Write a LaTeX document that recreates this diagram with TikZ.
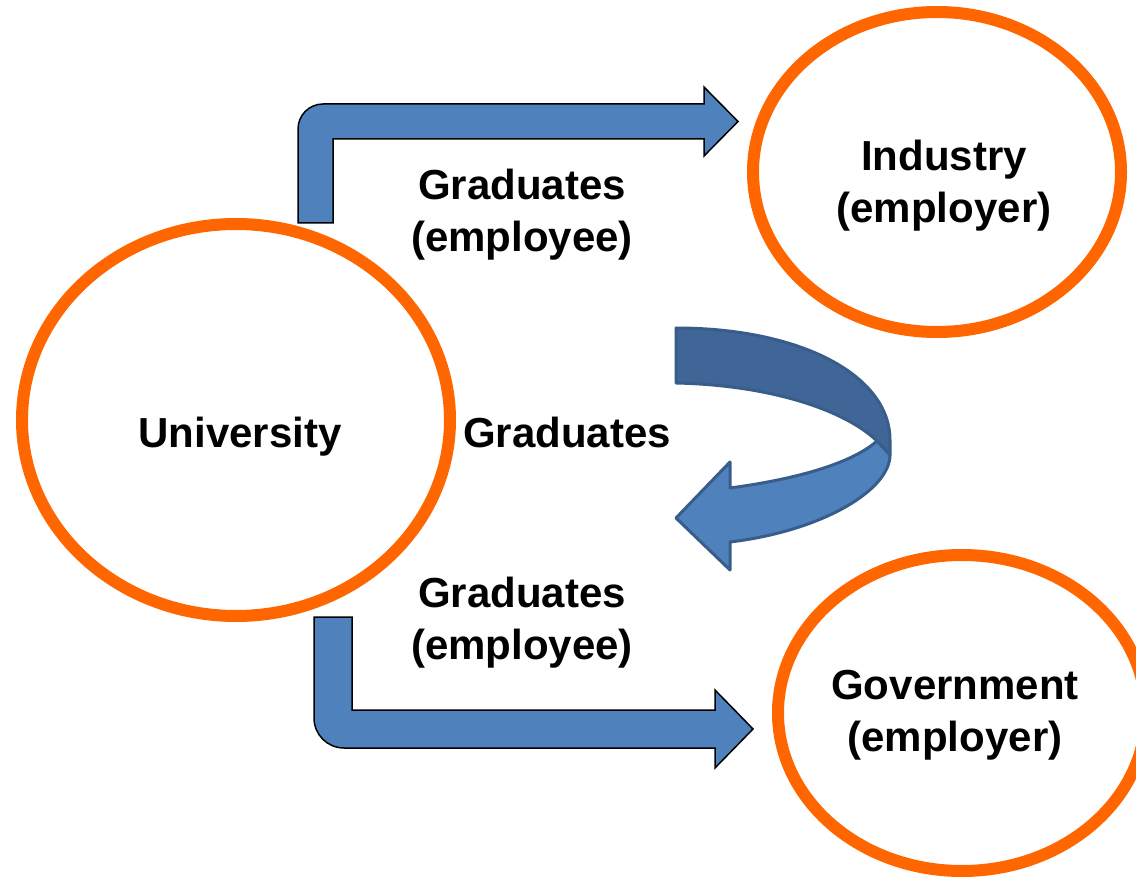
\documentclass[tikz,border=0pt]{standalone}
\usepackage{fontspec}
\setmainfont{Liberation Sans}
\usetikzlibrary{shapes.geometric}
\definecolor{ringorange}{RGB}{255,102,0}
\definecolor{arrowblue}{RGB}{79,129,189}
\definecolor{arrowdark}{RGB}{63,102,150}
\definecolor{arrowedge}{RGB}{56,93,138}
\begin{document}
\begin{tikzpicture}[x=1pt,y=-1pt,
  ring/.style={ellipse, draw=ringorange, line width=12pt, inner sep=0pt},
  lbl/.style={font=\bfseries\fontsize{42}{52}\selectfont, align=center, inner sep=0pt},
  bent/.style={fill=arrowblue, draw=black, line width=1.5pt, line join=miter},
  curl/.style={draw=arrowedge, line width=3pt, line join=round}]
\useasboundingbox (0,0) rectangle (1136,877);
\clip (0,0) rectangle (1136,877);
\fill[white] (0,0) rectangle (1136,877);
% rings
\node[ring, minimum width=428pt, minimum height=392pt] (univ) at (236,420) {};
\node[ring, minimum width=368pt, minimum height=320pt] (ind) at (937,172) {};
\node[ring, minimum width=368pt, minimum height=316pt] (gov) at (962,713) {};
% labels
\node[lbl, anchor=base] (univtxt) at (240,447) {University};
\node[lbl] (indtxt) at (944,186) {Industry\\(employer)};
\node[lbl] (govtxt) at (955,715) {Government\\(employer)};
\node[lbl] (gtop) at (522,215) {Graduates\\(employee)};
\node[lbl, anchor=base] (gmid) at (567,447) {Graduates};
\node[lbl] (gbot) at (522,623) {Graduates\\(employee)};
% bent arrows
\draw[bent] (333,223) -- (298,223) -- (298,129) .. controls (298,115.2) and (309.2,104) .. (323,104) -- (704,104) -- (704,87) -- (738,121.5) -- (704,156) -- (704,139) -- (333,139) -- cycle;
\draw[bent] (314,617) -- (352,617) -- (352,710) -- (715,710) -- (715,690) -- (753,729) -- (715,768) -- (715,748) -- (344,748) .. controls (327.4,748) and (314,734.6) .. (314,718) -- cycle;
% curved arrow
\filldraw[curl, fill=arrowdark] (676,328) .. controls (800,328) and (890,375) .. (890,440) -- (890,455) -- (877,441) .. controls (845,410) and (770,385) .. (676,383) -- cycle;
\filldraw[curl, fill=arrowblue] (676,518) -- (730,462) -- (730,488) .. controls (790,480) and (850,465) .. (877,441) -- (890,455) .. controls (890,490) and (822,531) .. (730,542) -- (730,570) -- cycle;
\end{tikzpicture}
\end{document}
